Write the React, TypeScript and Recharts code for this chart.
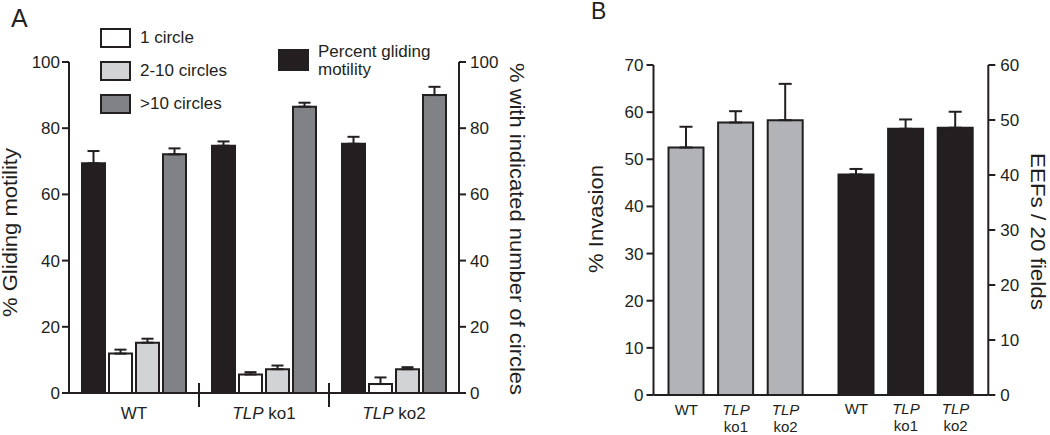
import React from "react";
import { BarChart, Bar, XAxis, YAxis, ErrorBar, Legend } from "recharts";

const FONT = '"Liberation Sans", Arial, sans-serif';
const INK = "#231f20";
const LIGHT_GRAY = "#d1d3d4";
const DARK_GRAY = "#808285";
const MID_GRAY = "#b1b3b6";

const strains = ["WT", "TLP ko1", "TLP ko2"];

// panel A: gliding motility (left axis) and circles per sporozoite (right axis)
const glidingMotility = [69.4, 74.7, 75.3];
const glidingMotilityErr = [3.7, 1.3, 2.1];
const oneCircle = [11.9, 5.6, 2.7];
const oneCircleErr = [1.2, 0.7, 2.0];
const twoToTenCircles = [15.2, 7.2, 7.2];
const twoToTenCirclesErr = [1.2, 1.1, 0.6];
const overTenCircles = [72.1, 86.5, 90.0];
const overTenCirclesErr = [1.8, 1.2, 2.5];
const percentTicks = [0, 20, 40, 60, 80, 100];

// panel B: invasion (left axis) and EEFs (right axis)
const invasion = [52.5, 57.8, 58.3];
const invasionErr = [4.4, 2.4, 7.7];
const eefs = [40.1, 48.4, 48.6];
const eefsErr = [1.0, 1.7, 2.9];
const invasionTicks = [0, 10, 20, 30, 40, 50, 60, 70];
const eefTicks = [0, 10, 20, 30, 40, 50, 60];

const rowsA = strains.map((strain, i) => ({
  strain,
  glide: glidingMotility[i],
  glideErr: [0, glidingMotilityErr[i]],
  one: oneCircle[i],
  oneErr: [0, oneCircleErr[i]],
  two: twoToTenCircles[i],
  twoErr: [0, twoToTenCirclesErr[i]],
  many: overTenCircles[i],
  manyErr: [0, overTenCirclesErr[i]],
}));

const rowsB = strains.map((strain, i) => ({
  strain,
  invasion: invasion[i],
  invasionErr: [0, invasionErr[i]],
  eefs: eefs[i],
  eefsErr: [0, eefsErr[i]],
}));

const axisLine = { stroke: INK, strokeWidth: 2 };
const tickStyle = { fontSize: 17, fill: INK, fontFamily: FONT };

function splitStrain(value: string) {
  const parts = String(value).split(" ");
  return parts.length > 1 ? [parts[0], parts.slice(1).join(" ")] : ["", parts[0]];
}

function GroupTick(props: any) {
  const { x, y, payload, index } = props;
  const [gene, rest] = splitStrain(payload.value);
  const half = payload.offset ?? 65;
  return (
    <g>
      {index > 0 && (
        <line x1={x - half} x2={x - half} y1={y - 10} y2={y + 14} stroke={INK} strokeWidth={2} />
      )}
      <text x={x} y={y + 20} textAnchor="middle" dominantBaseline="central" fontSize={17} fill={INK} fontFamily={FONT}>
        {gene && <tspan fontStyle="italic">{gene}</tspan>}
        <tspan>{gene ? " " + rest : rest}</tspan>
      </text>
    </g>
  );
}

function StackedTick(props: any) {
  const { x, y, payload } = props;
  const [gene, rest] = splitStrain(payload.value);
  return (
    <g fontSize={15} fill={INK} fontFamily={FONT}>
      {gene ? (
        <>
          <text x={x} y={y + 13} textAnchor="middle" dominantBaseline="central" fontStyle="italic">
            {gene}
          </text>
          <text x={x} y={y + 30.5} textAnchor="middle" dominantBaseline="central">
            {rest}
          </text>
        </>
      ) : (
        <text x={x} y={y + 13} textAnchor="middle" dominantBaseline="central">
          {rest}
        </text>
      )}
    </g>
  );
}

// vertical axis title; prop names kept apart from Label's own (angle, dx, dy...)
function AxisTitle({ viewBox, title, rot, shiftX, shiftY, len }: any) {
  if (!viewBox) return null;
  const cx = viewBox.x + shiftX;
  const cy = viewBox.y + viewBox.height / 2 + shiftY;
  return (
    <text
      x={cx}
      y={cy}
      transform={`rotate(${rot}, ${cx}, ${cy})`}
      textAnchor="middle"
      dominantBaseline="central"
      fontSize={20}
      fill={INK}
      fontFamily={FONT}
      textLength={len}
      lengthAdjust="spacingAndGlyphs"
    >
      {title}
    </text>
  );
}

function LegendA({ payload }: any) {
  const items = payload ?? [];
  const circles = items.filter((p: any) => p.dataKey !== "glide");
  const glide = items.find((p: any) => p.dataKey === "glide");
  const box = (color: string, h: number) => (
    <span
      style={{
        display: "inline-block",
        width: 27,
        height: h,
        border: `2px solid ${INK}`,
        background: color,
        marginRight: 9,
        flexShrink: 0,
      }}
    />
  );
  return (
    <div style={{ position: "relative", fontFamily: FONT, fontSize: 17, color: INK }}>
      <div style={{ position: "absolute", left: 100, top: 28 }}>
        {circles.map((p: any) => (
          <div key={p.dataKey} style={{ display: "flex", alignItems: "center", height: 20, marginBottom: 13, whiteSpace: "nowrap" }}>
            {box(p.color, 16)}
            <span>{p.value}</span>
          </div>
        ))}
      </div>
      {glide && (
        <div style={{ position: "absolute", left: 278, top: 49, display: "flex", alignItems: "flex-start" }}>
          {box(glide.color, 18)}
          <span style={{ width: 120, lineHeight: "18px", marginTop: -6 }}>{glide.value}</span>
        </div>
      )}
    </div>
  );
}

function PanelA() {
  return (
    <BarChart width={530} height={435} data={rowsA} margin={{ top: 62, right: 0, bottom: 0, left: 0 }} barSize={23} barGap={4}>
      <XAxis dataKey="strain" height={42} tickSize={0} tickMargin={0} tickLine={false} axisLine={axisLine} tick={<GroupTick />} interval={0} />
      <YAxis
        yAxisId="glide"
        width={69}
        domain={[0, 100]}
        ticks={percentTicks}
        interval={0}
        tickSize={7}
        tickMargin={2}
        tick={tickStyle}
        axisLine={axisLine}
        tickLine={axisLine}
        label={<AxisTitle title="% Gliding motility" rot={-90} shiftX={10} shiftY={5} len={169} />}
      />
      <YAxis
        yAxisId="circles"
        orientation="right"
        width={71}
        domain={[0, 100]}
        ticks={percentTicks}
        interval={0}
        tickSize={7}
        tickMargin={4}
        tick={tickStyle}
        axisLine={axisLine}
        tickLine={axisLine}
        label={<AxisTitle title="% with indicated number of circles" rot={90} shiftX={58} shiftY={1.5} len={332} />}
      />
      <Legend layout="vertical" align="center" verticalAlign="middle" wrapperStyle={{ left: 0, top: 0, width: 530, height: 0 }} content={<LegendA />} />
      <Bar yAxisId="glide" dataKey="glide" name="Percent gliding motility" fill={INK} stroke={INK} strokeWidth={2} isAnimationActive={false}>
        <ErrorBar dataKey="glideErr" width={6} stroke={INK} strokeWidth={2} />
      </Bar>
      <Bar yAxisId="circles" dataKey="one" name="1 circle" fill="#ffffff" stroke={INK} strokeWidth={2} isAnimationActive={false}>
        <ErrorBar dataKey="oneErr" width={6} stroke={INK} strokeWidth={2} />
      </Bar>
      <Bar yAxisId="circles" dataKey="two" name="2-10 circles" fill={LIGHT_GRAY} stroke={INK} strokeWidth={2} isAnimationActive={false}>
        <ErrorBar dataKey="twoErr" width={6} stroke={INK} strokeWidth={2} />
      </Bar>
      <Bar yAxisId="circles" dataKey="many" name=">10 circles" fill={DARK_GRAY} stroke={INK} strokeWidth={2} isAnimationActive={false}>
        <ErrorBar dataKey="manyErr" width={6} stroke={INK} strokeWidth={2} />
      </Bar>
    </BarChart>
  );
}

function PanelB() {
  return (
    <BarChart width={510} height={435} data={rowsB} margin={{ top: 65, right: 0, bottom: 0, left: 0 }} barSize={35}>
      <XAxis xAxisId="inv" dataKey="strain" height={39} padding={{ left: 8, right: 178 }} tickSize={0} tickMargin={0} tickLine={false} axisLine={false} tick={<StackedTick />} interval={0} />
      <XAxis xAxisId="eef" dataKey="strain" height={1} padding={{ left: 178, right: 8 }} tickSize={0} tickMargin={0} tickLine={false} axisLine={axisLine} tick={<StackedTick />} interval={0} />
      <YAxis
        yAxisId="inv"
        width={113.5}
        domain={[0, 70]}
        ticks={invasionTicks}
        interval={0}
        tickSize={7}
        tickMargin={3}
        tick={tickStyle}
        axisLine={axisLine}
        tickLine={axisLine}
        label={<AxisTitle title="% Invasion" rot={-90} shiftX={56} shiftY={-11} len={108} />}
      />
      <YAxis
        yAxisId="eef"
        orientation="right"
        width={61.7}
        domain={[0, 60]}
        ticks={eefTicks}
        interval={0}
        tickSize={7}
        tickMargin={5}
        tick={tickStyle}
        axisLine={axisLine}
        tickLine={axisLine}
        label={<AxisTitle title="EEFs / 20 fields" rot={90} shiftX={50} shiftY={1.5} len={157} />}
      />
      <Bar xAxisId="inv" yAxisId="inv" dataKey="invasion" fill={MID_GRAY} stroke={INK} strokeWidth={2} isAnimationActive={false}>
        <ErrorBar dataKey="invasionErr" width={6.5} stroke={INK} strokeWidth={2} />
      </Bar>
      <Bar xAxisId="eef" yAxisId="eef" dataKey="eefs" fill={INK} stroke={INK} strokeWidth={2} isAnimationActive={false}>
        <ErrorBar dataKey="eefsErr" width={6.5} stroke={INK} strokeWidth={2} />
      </Bar>
    </BarChart>
  );
}

export default function App() {
  return (
    <div style={{ position: "absolute", left: 0, top: 0, width: 1050, height: 435, background: "#fff", fontFamily: FONT, color: INK }}>
      <div style={{ position: "absolute", left: 0, top: 0 }}>
        <PanelA />
      </div>
      <div style={{ position: "absolute", left: 540, top: 0 }}>
        <PanelB />
      </div>
      <div style={{ position: "absolute", left: 11, top: 6, fontSize: 25, lineHeight: "25px" }}>A</div>
      <div style={{ position: "absolute", left: 591, top: 0, fontSize: 23, lineHeight: "23px" }}>B</div>
    </div>
  );
}
